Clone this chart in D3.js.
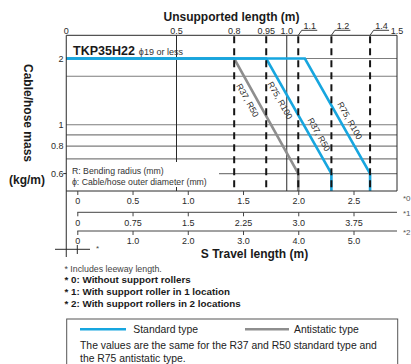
<!DOCTYPE html>
<html><head><meta charset="utf-8">
<script src="https://cdn.jsdelivr.net/npm/d3@7"></script>
<style>
html,body{margin:0;padding:0;background:#fff;}
svg{display:block;font-family:"Liberation Sans",Arial,sans-serif;}
</style></head><body>
<svg id="c" width="411" height="364"></svg>
<script>
// ---------- data ----------
const massTicks = [2, 1, 0.8, 0.6];
const massTickLabels = ["2", "1", "0.8", "0.6"];
const massGrid = [2, 1.66, 1, 0.9, 0.8, 0.7];
const unsupportedTicks = [0, 0.5, 1.0, 1.5];
const unsupportedTickLabels = ["0", "0.5", "1.0", "1.5"];
const unsupportedMarks = ["0.8", "0.95", "1.1", "1.2", "1.4"];
const unsupportedMarkTravel = [1.42, 1.71, 2.0, 2.3, 2.65];
const unsupportedMarkLeader = [false, false, true, true, true];
const travelTicks0 = [0, 0.5, 1.0, 1.5, 2.0, 2.5];
const travelLabels0 = ["0", "0.5", "1.0", "1.5", "2.0", "2.5"];
const travelTicks1 = [0, 0.75, 1.5, 2.25, 3.0, 3.75];
const travelLabels1 = ["0", "0.75", "1.5", "2.25", "3.0", "3.75"];
const travelTicks2 = [0, 1.0, 2.0, 3.0, 4.0, 5.0];
const travelLabels2 = ["0", "1.0", "2.0", "3.0", "4.0", "5.0"];
const axisNames = ["*0", "*1", "*2"];
// series: travel length (m) at each vertex, with cable mass (kg/m)
const curveMass = [2, 2, 0.6, 0.5];
const antistaticR37Travel = [-0.1, 1.42, 2.0, 2.0];
const standardR37Travel = [-0.1, 1.71, 2.3, 2.3];
const standardR75Travel = [-0.1, 2.06, 2.65, 2.65];
// labels along the sloped segments
const labelSeries = ["antistatic", "standardR37", "standardR37", "standardR75"];
const labelTexts = ["R37, R50", "R75, R100", "R37, R50", "R75, R100"];
const labelMass = [1.35, 1.35, 0.865, 1.0];
const labelSide = [-1, -1, 1, 1];
const footnotes = ["* Includes leeway length.", "* 0: Without support rollers",
  "* 1: With support roller in 1 location", "* 2: With support rollers in 2 locations"];

// ---------- scales ----------
const BLUE = "#17a6df", GRAY = "#8e8e8e", GRID = "#7d7d7d", INK = "#2a2a2a";
const xS = d3.scaleLinear().domain([0, 2.5]).range([77.3, 353.5]);
const boxL = xS(-0.1), boxR = 397;
const xU = d3.scaleLinear().domain([0, 1.5]).range([boxL, boxR]);
const yM = d3.scaleLog().domain([0.5, 2.55]).range([191, 35.3]);
const boxT = yM(2.55), boxB = yM(0.5);
const xS1 = d3.scaleLinear().domain([0, 3.75]).range([xS(0), xS(2.5)]);
const xS2 = d3.scaleLinear().domain([0, 5]).range([xS(0), xS(2.5)]);

const svg = d3.select("#c");

// ---------- grid ----------
svg.append("g").selectAll("line").data(massGrid).join("line")
  .attr("x1", boxL).attr("x2", boxR)
  .attr("y1", d => yM(d)).attr("y2", d => yM(d))
  .attr("stroke", GRID).attr("stroke-width", 1.1);
// 0.6 line starts after the legend note
svg.append("line").attr("x1", 219).attr("x2", boxR)
  .attr("y1", yM(0.6)).attr("y2", yM(0.6)).attr("stroke", GRID).attr("stroke-width", 1.1);

// solid verticals
svg.append("line").attr("x1", xU(0.5)).attr("x2", xU(0.5))
  .attr("y1", boxT).attr("y2", 162).attr("stroke", INK).attr("stroke-width", 1);
svg.append("line").attr("x1", xU(0.5)).attr("x2", xU(0.5))
  .attr("y1", boxB - 4).attr("y2", boxB).attr("stroke", INK).attr("stroke-width", 1);
svg.append("line").attr("x1", xU(1.0)).attr("x2", xU(1.0))
  .attr("y1", boxT).attr("y2", boxB).attr("stroke", INK).attr("stroke-width", 1);

// ---------- series ----------
const line = d3.line().x(d => xS(d[0])).y(d => yM(d[1]));
const series = {
  antistatic: antistaticR37Travel,
  standardR37: standardR37Travel,
  standardR75: standardR75Travel
};
function pts(arr) { return arr.map((s, i) => [s, curveMass[i]]); }
svg.append("path").attr("d", line(pts(antistaticR37Travel)))
  .attr("fill", "none").attr("stroke", GRAY).attr("stroke-width", 2.6);
[standardR37Travel, standardR75Travel].forEach(a => {
  svg.append("path").attr("d", line(pts(a)))
    .attr("fill", "none").attr("stroke", BLUE).attr("stroke-width", 2.6);
});

// dashed verticals
svg.append("g").selectAll("line").data(unsupportedMarkTravel).join("line")
  .attr("x1", d => xS(d)).attr("x2", d => xS(d))
  .attr("y1", boxT + 1).attr("y2", boxB)
  .attr("stroke", "#151515").attr("stroke-width", 2).attr("stroke-dasharray", "7,5");

// sloped labels
labelTexts.forEach((t, i) => {
  const a = series[labelSeries[i]];
  const x1 = xS(a[1]), y1 = yM(curveMass[1]), x2 = xS(a[2]), y2 = yM(curveMass[2]);
  const th = Math.atan2(y2 - y1, x2 - x1);
  const y = yM(labelMass[i]);
  const x = x1 + (y - y1) / (y2 - y1) * (x2 - x1);
  const off = 8.5 * labelSide[i];
  const cx = x + off * Math.sin(th), cy = y - off * Math.cos(th);
  svg.append("text").text(t)
    .attr("transform", `translate(${cx},${cy}) rotate(${th * 180 / Math.PI})`)
    .attr("text-anchor", "middle").attr("dy", "0.35em")
    .attr("font-size", 8.7).attr("fill", INK);
});

// ---------- box ----------
svg.append("path")
  .attr("d", `M${boxL},${boxT}H${boxR}V${boxB}H${boxL}`)
  .attr("fill", "none").attr("stroke", INK).attr("stroke-width", 1);
svg.append("line").attr("x1", boxL).attr("x2", boxL).attr("y1", boxT).attr("y2", 257)
  .attr("stroke", INK).attr("stroke-width", 1);

// ---------- top axis ----------
svg.append("g").selectAll("text").data(unsupportedTicks).join("text")
  .attr("x", d => xU(d)).attr("y", boxT - 1.8)
  .attr("text-anchor", "middle").attr("font-size", 9).attr("fill", INK)
  .text((d, i) => unsupportedTickLabels[i]);
unsupportedMarks.forEach((m, i) => {
  const x = xS(unsupportedMarkTravel[i]);
  if (!unsupportedMarkLeader[i]) {
    svg.append("text").attr("x", x).attr("y", boxT - 1.8)
      .attr("text-anchor", "middle").attr("font-size", 9).attr("fill", INK).text(m);
  } else {
    svg.append("path").attr("d", `M${x},${boxT}L${x + 3.5},${boxT - 5}H${x + 19}`)
      .attr("fill", "none").attr("stroke", INK).attr("stroke-width", 0.9);
    svg.append("text").attr("x", x + 11.5).attr("y", boxT - 6.3)
      .attr("text-anchor", "middle").attr("font-size", 9).attr("fill", INK).text(m);
  }
});
svg.append("text").attr("x", 231.5).attr("y", 20.7).attr("text-anchor", "middle")
  .attr("font-size", 12).attr("font-weight", "bold").attr("fill", "#1a1a1a")
  .text("Unsupported length (m)");

// ---------- left axis ----------
svg.append("g").selectAll("text").data(massTicks).join("text")
  .attr("x", 63.5).attr("y", d => yM(d)).attr("dy", "0.35em")
  .attr("text-anchor", "end").attr("font-size", 9).attr("fill", INK)
  .text((d, i) => massTickLabels[i]);
svg.append("line").attr("x1", boxL - 3).attr("x2", boxL)
  .attr("y1", yM(0.6)).attr("y2", yM(0.6)).attr("stroke", INK);
svg.append("text").attr("transform", "translate(23.5,113) rotate(90)")
  .attr("text-anchor", "middle").attr("font-size", 12).attr("font-weight", "bold")
  .attr("fill", "#1a1a1a").text("Cable/hose mass");
svg.append("text").attr("x", 27).attr("y", 184).attr("text-anchor", "middle")
  .attr("font-size", 12).attr("font-weight", "bold").attr("fill", "#1a1a1a").text("(kg/m)");

// chart annotations
svg.append("text").attr("x", 73).attr("y", 55).attr("font-size", 12.5)
  .attr("font-weight", "bold").attr("fill", "#1a1a1a").text("TKP35H22")
  .append("tspan").attr("dx", 4).attr("font-size", 9).attr("font-weight", "normal")
  .attr("fill", "#333").text("ϕ19 or less");
svg.append("text").attr("x", 72).attr("y", 174.3).attr("font-size", 8.7).attr("fill", "#333")
  .text("R: Bending radius (mm)");
svg.append("text").attr("x", 72).attr("y", 184.6).attr("font-size", 8.7).attr("fill", "#333")
  .text("ϕ: Cable/hose outer diameter (mm)");

// ---------- bottom axes ----------
function bottomAxis(scale, ticks, labels, y, drawLine) {
  const g = svg.append("g").attr("transform", `translate(0,${y})`);
  if (drawLine) g.append("line").attr("x1", scale.range()[0]).attr("x2", boxR)
    .attr("stroke", "#444").attr("stroke-width", 1);
  g.call(d3.axisBottom(scale).tickValues(ticks).tickSize(4).tickPadding(3)
    .tickFormat((d, i) => labels[i]));
  g.select(".domain").remove();
  g.selectAll(".tick line").attr("stroke", "#444");
  g.selectAll(".tick text").attr("font-size", 9).attr("fill", INK)
    .attr("font-family", "Liberation Sans, Arial, sans-serif");
}
const axisY = [boxB, 212.3, 231];
bottomAxis(xS, travelTicks0, travelLabels0, axisY[0], false);
bottomAxis(xS1, travelTicks1, travelLabels1, axisY[1], true);
bottomAxis(xS2, travelTicks2, travelLabels2, axisY[2], true);
const axisNameY = [198, 213, 232.5];
axisNames.forEach((t, i) => {
  svg.append("text").attr("x", 403).attr("y", axisNameY[i]).attr("dy", "0.35em")
    .attr("font-size", 8).attr("fill", "#555").text(t);
});
svg.append("text").attr("x", 254.5).attr("y", 257.5).attr("text-anchor", "middle")
  .attr("font-size", 12).attr("font-weight", "bold").attr("fill", "#1a1a1a")
  .text("S Travel length (m)");

// leeway mark
svg.append("line").attr("x1", 55).attr("x2", 90).attr("y1", 249.3).attr("y2", 249.3)
  .attr("stroke", INK).attr("stroke-width", 1);
svg.append("line").attr("x1", xS(0)).attr("x2", xS(0)).attr("y1", 245).attr("y2", 254)
  .attr("stroke", INK).attr("stroke-width", 1);
svg.append("text").attr("x", 96).attr("y", 251).attr("font-size", 8).attr("fill", "#444").text("*");

// ---------- footnotes ----------
const fnY = [272.3, 282.8, 295, 307.3];
footnotes.forEach((t, i) => {
  svg.append("text").attr("x", 64.5).attr("y", fnY[i])
    .attr("font-size", i === 0 ? 8.8 : 9.8).attr("font-weight", i === 0 ? "normal" : "bold")
    .attr("fill", i === 0 ? "#444" : "#1a1a1a").text(t);
});

// ---------- legend ----------
svg.append("rect").attr("x", 66.7).attr("y", 319).attr("width", 331).attr("height", 60)
  .attr("fill", "none").attr("stroke", "#555").attr("stroke-width", 1);
svg.append("line").attr("x1", 80).attr("x2", 126).attr("y1", 329.3).attr("y2", 329.3)
  .attr("stroke", BLUE).attr("stroke-width", 2.6);
svg.append("text").attr("x", 133.3).attr("y", 333).attr("font-size", 10.4).attr("fill", "#222")
  .text("Standard type");
svg.append("line").attr("x1", 245).attr("x2", 289).attr("y1", 329.3).attr("y2", 329.3)
  .attr("stroke", GRAY).attr("stroke-width", 2.6);
svg.append("text").attr("x", 294).attr("y", 333).attr("font-size", 10.4).attr("fill", "#222")
  .text("Antistatic type");
svg.append("text").attr("x", 80).attr("y", 348.7).attr("font-size", 10.4).attr("fill", "#222")
  .text("The values are the same for the R37 and R50 standard type and");
svg.append("text").attr("x", 80).attr("y", 361.5).attr("font-size", 10.4).attr("fill", "#222")
  .text("the R75 antistatic type.");
</script>
</body></html>
